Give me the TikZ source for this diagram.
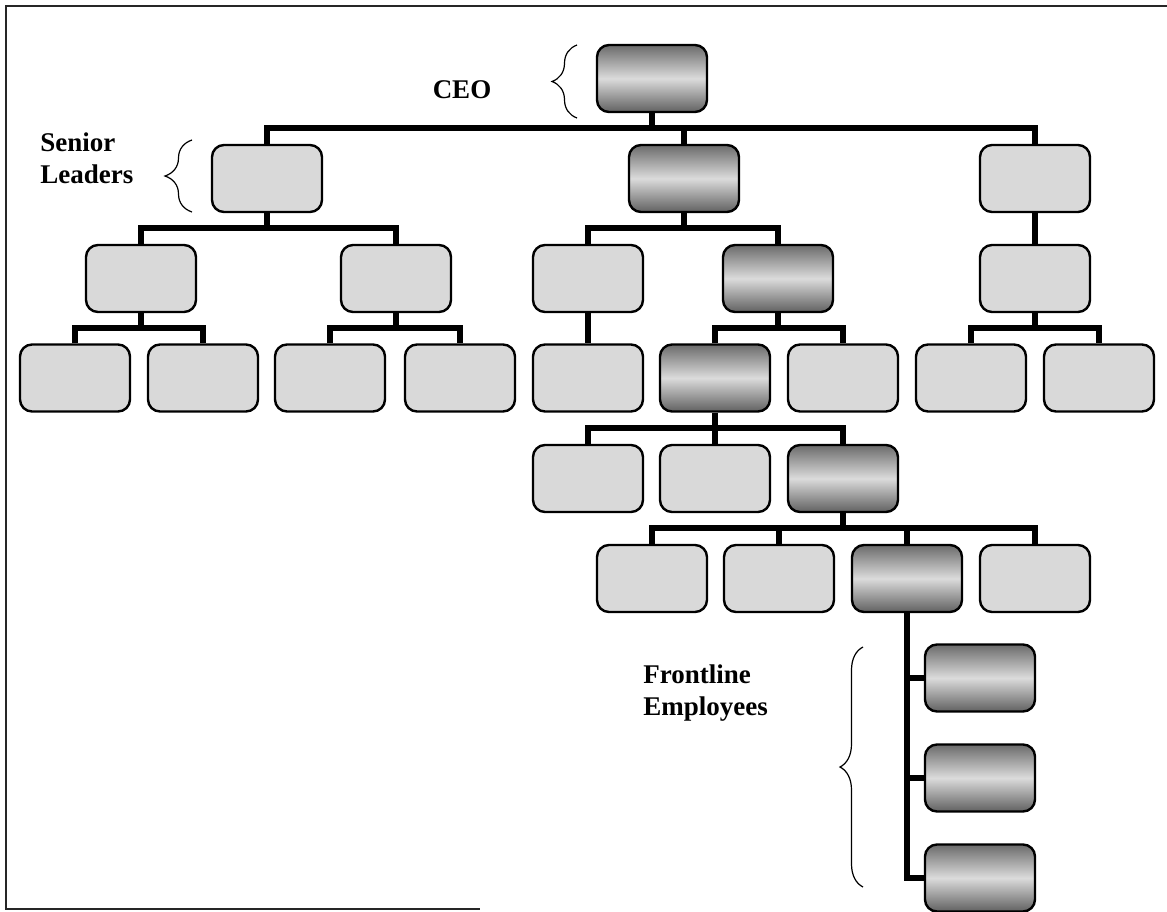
\documentclass[tikz,border=0pt]{standalone}
\usepackage{fontspec}
\setmainfont{Liberation Serif}
\usetikzlibrary{decorations.pathreplacing}
\begin{document}
\begin{tikzpicture}[x=0.5pt,y=-0.5pt,
  box/.style={draw=black,line width=1.2pt,rounded corners=6pt,minimum width=55pt,minimum height=33.5pt,inner sep=0pt},
  lite/.style={box,fill=gray!30},
  dark/.style={box,top color=black!58,bottom color=black!62,middle color=black!14},
  conn/.style={line width=3pt,black},
  lbl/.style={font=\fontsize{13.5}{16}\selectfont\bfseries,inner sep=0pt,align=left},
  brc/.style={decorate,decoration={brace,amplitude=#1},line width=0.6pt}]
\useasboundingbox (0,0) rectangle (1167,911);
% frame
\draw[line width=1pt,black!85] (1167,6) -- (6,6) -- (6,909) -- (480,909);
% bus levels
\coordinate (bus0) at (0,128);
\coordinate (bus1) at (0,228);
\coordinate (bus2) at (0,328);
\coordinate (bus3) at (0,428);
\coordinate (bus4) at (0,528);
% boxes
\node[dark] (ceo) at (652,78.5) {};
\node[lite] (s1) at (267,178.5) {};
\node[dark] (s2) at (684,178.5) {};
\node[lite] (s3) at (1035,178.5) {};
\node[lite] (m1) at (141,278.5) {};
\node[lite] (m2) at (396,278.5) {};
\node[lite] (m3) at (588,278.5) {};
\node[dark] (m4) at (778,278.5) {};
\node[lite] (m5) at (1035,278.5) {};
\node[lite] (t1) at (75,378) {};
\node[lite] (t2) at (203,378) {};
\node[lite] (t3) at (330,378) {};
\node[lite] (t4) at (460,378) {};
\node[lite] (t5) at (588,378) {};
\node[dark] (t6) at (715,378) {};
\node[lite] (t7) at (843,378) {};
\node[lite] (t8) at (971,378) {};
\node[lite] (t9) at (1099,378) {};
\node[lite] (u1) at (588,478.5) {};
\node[lite] (u2) at (715,478.5) {};
\node[dark] (u3) at (843,478.5) {};
\node[lite] (v1) at (652,578.5) {};
\node[lite] (v2) at (779,578.5) {};
\node[dark] (v3) at (907,578.5) {};
\node[lite] (v4) at (1035,578.5) {};
\node[dark] (f1) at (980,678) {};
\node[dark] (f2) at (980,778) {};
\node[dark] (f3) at (980,878) {};
% connectors
\draw[conn] (s1.north) |- (bus0 -| s3.north) -- (s3.north);
\draw[conn] (ceo.south) -- (ceo.south |- bus0);
\draw[conn] (s2.north) -- (s2.north |- bus0);
\draw[conn] (m1.north) |- (bus1 -| m2.north) -- (m2.north);
\draw[conn] (s1.south) -- (s1.south |- bus1);
\draw[conn] (m3.north) |- (bus1 -| m4.north) -- (m4.north);
\draw[conn] (s2.south) -- (s2.south |- bus1);
\draw[conn] (s3.south) -- (m5.north);
\draw[conn] (t1.north) |- (bus2 -| t2.north) -- (t2.north);
\draw[conn] (m1.south) -- (m1.south |- bus2);
\draw[conn] (t3.north) |- (bus2 -| t4.north) -- (t4.north);
\draw[conn] (m2.south) -- (m2.south |- bus2);
\draw[conn] (m3.south) -- (t5.north);
\draw[conn] (t6.north) |- (bus2 -| t7.north) -- (t7.north);
\draw[conn] (m4.south) -- (m4.south |- bus2);
\draw[conn] (t8.north) |- (bus2 -| t9.north) -- (t9.north);
\draw[conn] (m5.south) -- (m5.south |- bus2);
\draw[conn] (u1.north) |- (bus3 -| u3.north) -- (u3.north);
\draw[conn] (t6.south) -- (u2.north);
\draw[conn] (v1.north) |- (bus4 -| v4.north) -- (v4.north);
\draw[conn] (u3.south) -- (u3.south |- bus4);
\draw[conn] (v2.north) -- (v2.north |- bus4);
\draw[conn] (v3.north) -- (v3.north |- bus4);
\draw[conn] (v3.south) |- (f3.west);
\draw[conn] (f1.west) -- (f1.west -| v3.south);
\draw[conn] (f2.west) -- (f2.west -| v3.south);
% labels
\node[lbl] (lceo) at (462,90) {CEO};
\node[lbl,anchor=north west] (lsen) at (40,132) {Senior\\Leaders};
\node[lbl,anchor=north west] (lfront) at (643,664) {Frontline\\Employees};
% braces
\draw[brc=12.5pt] (577,118) -- (577,45);
\draw[brc=13.5pt] (192,212) -- (192,140);
\draw[brc=11.5pt] (863,887) -- (863,647);
\end{tikzpicture}
\end{document}
